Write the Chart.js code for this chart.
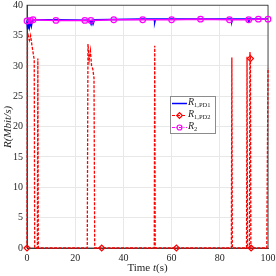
<!DOCTYPE html>
<html lang="en">
<head>
<meta charset="UTF-8">
<title>Rate vs time</title>
<script src="https://cdn.jsdelivr.net/npm/chart.js"></script>
<style>
    html, body { margin: 0; padding: 0; background: #fff; }
    .wrap { position: relative; width: 276px; height: 276px; font-family: 'Liberation Serif', 'DejaVu Serif', serif; color: #262626; }
    canvas { position: absolute; left: 0; top: 0; }
    .xtitle { position: absolute; left: 27px; width: 241px; top: 261px; text-align: center; font-size: 11px; line-height: 12px; }
    .ytitle { position: absolute; left: 7px; top: 127px; transform: translate(-50%, -50%) rotate(-90deg); font-size: 11px; font-style: italic; white-space: nowrap; }
    .legend { position: absolute; left: 170px; top: 96px; width: 44px; height: 36px; border: 1px solid #8c8c8c; background: #fff; font-size: 10px; }
    .legend .row { position: relative; height: 12px; line-height: 12px; }
    .legend svg { position: absolute; left: 1px; top: 0; }
    .legend .lbl { position: absolute; left: 17px; top: -1px; white-space: nowrap; }
    .legend sub { font-size: 6.5px; vertical-align: -2px; }
</style>
</head>
<body>
<div class="wrap">
    <canvas id="rateChart" width="276" height="276"></canvas>
    <div class="ytitle">R(Mbit/s)</div>
    <div class="xtitle">Time <i>t</i>(s)</div>
    <div class="legend">
        <div class="row">
            <svg width="15" height="12"><line x1="0" y1="6.5" x2="15" y2="6.5" stroke="#0000ff" stroke-width="1.5"/></svg>
            <span class="lbl"><i>R</i><sub>1,PD1</sub></span>
        </div>
        <div class="row">
            <svg width="15" height="12"><line x1="0" y1="6.5" x2="15" y2="6.5" stroke="#ff0000" stroke-width="1.2" stroke-dasharray="3,2"/><rect x="5.5" y="4.5" width="4" height="4" fill="none" stroke="#ff0000" stroke-width="1.2" transform="rotate(45 7.5 6.5)"/></svg>
            <span class="lbl"><i>R</i><sub>1,PD2</sub></span>
        </div>
        <div class="row">
            <svg width="15" height="12"><line x1="0" y1="6.5" x2="15" y2="6.5" stroke="#ff00ff" stroke-width="1.2" stroke-dasharray="3,1.5,1,1.5"/><circle cx="7.5" cy="6.5" r="2.5" fill="none" stroke="#ff00ff" stroke-width="1.2"/></svg>
            <span class="lbl"><i>R</i><sub>2</sub></span>
        </div>
    </div>
</div>

<script>
    // R_1,PD1 (blue)
    const pd1Time = [0, 0.3, 0.7, 1.0, 1.4, 1.8, 2.2, 3.0, 12, 26.0, 26.6, 27.0, 27.4, 28, 48, 52.8, 53.0, 53.3, 60, 84.8, 85.0, 85.3, 91.8, 92.0, 92.3, 96, 100];
    const pd1Rate = [37.5, 36.0, 37.2, 36.4, 37.3, 36.6, 37.5, 37.6, 37.6, 37.5, 36.9, 37.4, 36.9, 37.6, 37.7, 37.7, 37.2, 37.7, 37.7, 37.7, 37.3, 37.7, 37.7, 37.1, 37.7, 37.7, 37.7];

    // R_1,PD2 (red dashed, diamonds)
    const pd2Time = [0, 0.2, 0.5, 1.0, 1.5, 2.0, 2.6, 3.0, 3.2, 4.3, 4.5, 4.7,
                     25.0, 25.3, 25.8, 26.3, 26.8, 27.3, 27.8, 28.1, 31,
                     52.8, 53.0, 53.2, 62, 84.8, 85.0, 85.2,
                     91.1, 91.3, 91.5, 92.3, 92.5, 92.7, 92.9, 93, 99.5, 100];
    const pd2Rate = [0, 34.5, 35.0, 34.2, 35.0, 33.5, 32.0, 31.0, 0, 0, 31.2, 0,
                     0, 33.6, 31.0, 32.5, 30.0, 29.5, 28.0, 0, 0,
                     0, 33.3, 0, 0, 0, 31.4, 0,
                     0, 31.5, 0, 0, 32.3, 31.2, 0, 0, 0, 29.6];
    const pd2MarkIdx = [0, 20, 24, 33, 35];

    // R_2 (magenta, circles)
    const r2Time = [0, 1.5, 2.5, 12, 24, 26.5, 36, 48, 60, 72, 84, 92, 96, 100];
    const r2Rate = [37.4, 37.5, 37.6, 37.5, 37.5, 37.5, 37.6, 37.6, 37.6, 37.7, 37.6, 37.6, 37.7, 37.7];

    const xTicks = [0, 20, 40, 60, 80, 100];
    const yTicks = [0, 5, 10, 15, 20, 25, 30, 35, 40];

    const toPoints = (ts, vs) => ts.map((t, i) => ({ x: t, y: vs[i] }));
    const axisColor = '#262626';
    const tickFont = { family: "'Liberation Serif', serif", size: 10 };

    // MATLAB-style box around the plot area, drawn under the lines
    const framePlugin = {
        id: 'frame',
        beforeDatasetsDraw(chart) {
            const { ctx, chartArea: a } = chart;
            ctx.save();
            ctx.strokeStyle = axisColor;
            ctx.lineWidth = 0.8;
            ctx.strokeRect(a.left, a.top, a.right - a.left, a.bottom - a.top);
            ctx.restore();
        }
    };

    new Chart(document.getElementById('rateChart'), {
        type: 'line',
        data: {
            datasets: [
                {
                    label: 'R2',
                    data: toPoints(r2Time, r2Rate),
                    borderColor: '#ff00ff',
                    borderWidth: 1.5,
                    pointStyle: 'circle',
                    pointRadius: 2.8,
                    pointBorderWidth: 1.2,
                    pointBorderColor: '#ff00ff',
                    pointBackgroundColor: 'rgba(0,0,0,0)',
                    clip: 4
                },
                {
                    label: 'R1PD1',
                    data: toPoints(pd1Time, pd1Rate),
                    borderColor: '#0000ff',
                    borderWidth: 1.6,
                    pointRadius: 0,
                    clip: 4
                },
                {
                    label: 'R1PD2',
                    data: toPoints(pd2Time, pd2Rate),
                    borderColor: '#ff0000',
                    borderWidth: 1.3,
                    borderDash: [3, 1.5],
                    pointStyle: 'rectRot',
                    pointRadius: ctx => pd2MarkIdx.includes(ctx.dataIndex) ? 3 : 0,
                    pointBorderWidth: 1.2,
                    pointBorderColor: '#ff0000',
                    pointBackgroundColor: 'rgba(0,0,0,0)',
                    clip: 4
                }
            ]
        },
        options: {
            responsive: false,
            animation: false,
            layout: { padding: { top: 5, right: 8, left: 0, bottom: 0 } },
            plugins: { legend: { display: false }, tooltip: { enabled: false } },
            scales: {
                x: {
                    type: 'linear',
                    min: 0, max: 100,
                    afterBuildTicks: s => { s.ticks = xTicks.map(v => ({ value: v })); },
                    afterFit: s => { s.height = 28; s.paddingLeft = 0; s.paddingRight = 0; },
                    grid: { color: '#e8e8e8', drawTicks: false },
                    border: { color: axisColor, width: 0.8 },
                    ticks: { color: axisColor, font: tickFont, padding: 4, maxRotation: 0 }
                },
                y: {
                    min: 0, max: 40,
                    afterBuildTicks: s => { s.ticks = yTicks.map(v => ({ value: v })); },
                    afterFit: s => { s.width = 27; s.paddingTop = 0; s.paddingBottom = 0; },
                    grid: { color: '#e8e8e8', drawTicks: false },
                    border: { color: axisColor, width: 0.8 },
                    ticks: { color: axisColor, font: tickFont, padding: 4 }
                }
            }
        },
        plugins: [framePlugin]
    });
</script>
</body>
</html>
